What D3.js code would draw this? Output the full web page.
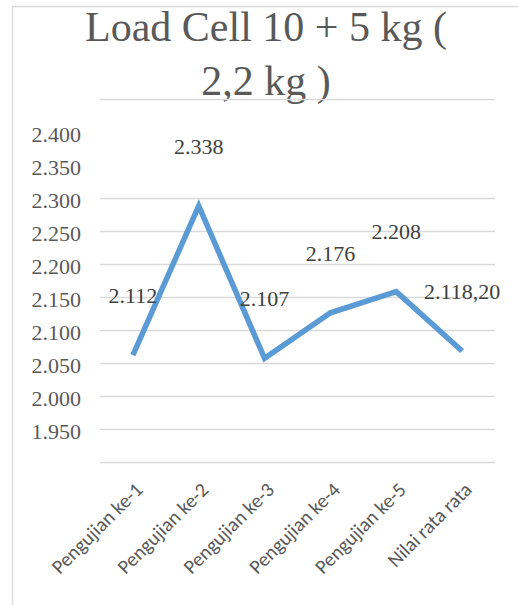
<!DOCTYPE html>
<html>
<head>
<meta charset="utf-8">
<script src="https://cdn.jsdelivr.net/npm/d3@7"></script>
</head>
<body style="margin:0;background:#fff">
<svg id="chart" width="518" height="605"></svg>
<script>
const titleLines = ["Load Cell 10 + 5 kg (", "2,2 kg )"];
const categories = ["Pengujian ke-1", "Pengujian ke-2", "Pengujian ke-3", "Pengujian ke-4", "Pengujian ke-5", "Nilai rata rata"];
const values = [2.112, 2.338, 2.107, 2.176, 2.208, 2.1182];
const valueLabels = ["2.112", "2.338", "2.107", "2.176", "2.208", "2.118,20"];
const gridValues = [1.95, 2.00, 2.05, 2.10, 2.15, 2.20, 2.25, 2.30, 2.35, 2.50];
const tickLabels = ["1.950", "2.000", "2.050", "2.100", "2.150", "2.200", "2.250", "2.300", "2.350", "2.400"];

const svg = d3.select("#chart");
const plotLeft = 100, plotRight = 495, plotTop = 99, plotBottom = 462;

// title
svg.append("g").selectAll("text").data(titleLines).join("text")
  .attr("x", 266)
  .attr("y", (d, i) => 41 + i * 54)
  .attr("text-anchor", "middle")
  .attr("font-family", "Liberation Serif")
  .attr("font-size", 42)
  .attr("fill", "#595959")
  .text(d => d);

// chart border
svg.append("path")
  .attr("d", "M12.5,605 L12.5,6.5 L518,6.5")
  .attr("fill", "none").attr("stroke", "#d9d9d9").attr("stroke-width", 1.3);

const x = d3.scalePoint().domain(categories).range([plotLeft, plotRight]).padding(0.5);
// data scale: bottom gridline = 1.95, top visible gridline = 2.50
const y = d3.scaleLinear().domain([1.95, 2.50]).range([plotBottom, plotTop]);
// axis label scale as drawn in the picture (labels sit one step above their data level)
const yAxisScale = d3.scaleLinear().domain([1.90, 2.45]).range([plotBottom, plotTop]);

// gridlines
svg.append("g").selectAll("line").data(gridValues).join("line")
  .attr("x1", plotLeft).attr("x2", plotRight)
  .attr("y1", d => Math.round(y(d)) + 0.5).attr("y2", d => Math.round(y(d)) + 0.5)
  .attr("stroke", "#d9d9d9").attr("stroke-width", 1.5);

// y tick labels
const yAxis = d3.axisLeft(yAxisScale)
  .tickValues(tickLabels.map(Number))
  .tickFormat((d, i) => tickLabels[i])
  .tickSize(0).tickPadding(0);
const gy = svg.append("g").attr("transform", "translate(81,2)").call(yAxis);
gy.select(".domain").remove();
gy.attr("font-family", "Liberation Serif").attr("font-size", 22);
gy.selectAll("text").attr("fill", "#595959");

// line
const line = d3.line().x((d, i) => x(categories[i])).y(d => y(d));
svg.append("path").datum(values)
  .attr("d", line)
  .attr("fill", "none").attr("stroke", "#5b9bd5")
  .attr("stroke-width", 5.5).attr("stroke-linejoin", "miter");

// data labels
svg.append("g").selectAll("text").data(values).join("text")
  .attr("x", (d, i) => x(categories[i]))
  .attr("y", d => y(d) - 60)
  .attr("dy", "0.35em")
  .attr("text-anchor", "middle")
  .attr("font-family", "Liberation Serif")
  .attr("font-size", 22)
  .attr("fill", "#404040")
  .text((d, i) => valueLabels[i]);

// x labels
svg.append("g").selectAll("text").data(categories).join("text")
  .attr("transform", d => `translate(${x(d) + 6},${plotBottom + 24}) rotate(-45)`)
  .attr("text-anchor", "end")
  .attr("dy", "0.35em")
  .attr("font-family", "Carlito")
  .attr("font-size", 20)
  .attr("fill", "#595959")
  .text(d => d);
</script>
</body>
</html>
